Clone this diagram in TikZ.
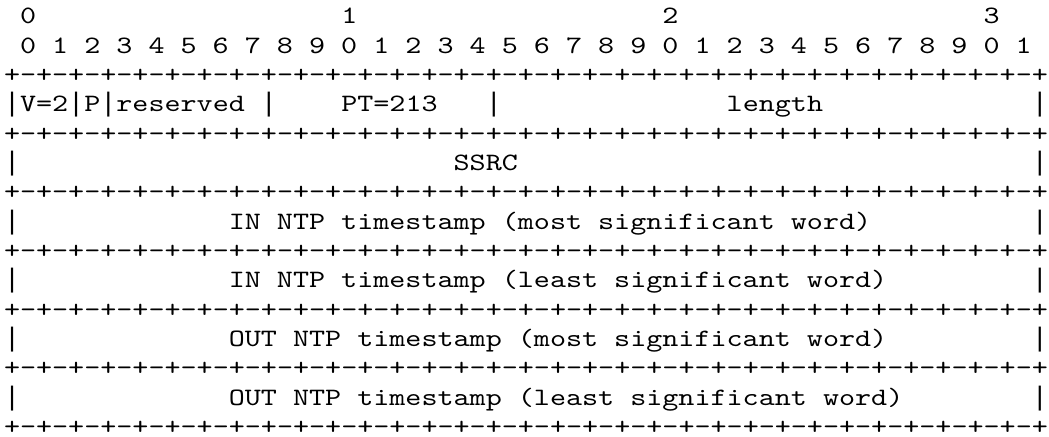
\documentclass[tikz,border=0pt]{standalone}
\usepackage{fontspec}
\setmonofont{lmmono10-regular.otf}[FakeStretch=1.2236]
\newfontfamily\pbarfont{Liberation Mono}
\newcommand\pbar{{\pbarfont\fontsize{13.383pt}{16pt}\selectfont|}}
\tikzset{
  asciiline/.style={anchor=base west, inner sep=0pt, outer sep=0pt,
    font=\fontsize{12.5pt}{16pt}\selectfont\ttfamily\frenchspacing, text=black}
}
\begin{document}
\begin{tikzpicture}[x=1pt,y=1pt]
\useasboundingbox (0,0) rectangle (524.5,-218.5);
\node[asciiline] (l0) at (2,-11.9) {~0~~~~~~~~~~~~~~~~~~~1~~~~~~~~~~~~~~~~~~~2~~~~~~~~~~~~~~~~~~~3};
\node[asciiline] (l1) at (2,-26.575) {~0~1~2~3~4~5~6~7~8~9~0~1~2~3~4~5~6~7~8~9~0~1~2~3~4~5~6~7~8~9~0~1};
\node[asciiline] (l2) at (2,-41.25) {+-+-+-+-+-+-+-+-+-+-+-+-+-+-+-+-+-+-+-+-+-+-+-+-+-+-+-+-+-+-+-+-+};
\node[asciiline] (l3) at (2,-55.925) {\pbar V=2\pbar P\pbar reserved~\pbar~~~~PT=213~~~\pbar~~~~~~~~~~~~~~length~~~~~~~~~~~~~\pbar};
\node[asciiline] (l4) at (2,-70.6) {+-+-+-+-+-+-+-+-+-+-+-+-+-+-+-+-+-+-+-+-+-+-+-+-+-+-+-+-+-+-+-+-+};
\node[asciiline] (l5) at (2,-85.275) {\pbar~~~~~~~~~~~~~~~~~~~~~~~~~~~SSRC~~~~~~~~~~~~~~~~~~~~~~~~~~~~~~~~\pbar};
\node[asciiline] (l6) at (2,-99.95) {+-+-+-+-+-+-+-+-+-+-+-+-+-+-+-+-+-+-+-+-+-+-+-+-+-+-+-+-+-+-+-+-+};
\node[asciiline] (l7) at (2,-114.625) {\pbar~~~~~~~~~~~~~IN~NTP~timestamp~(most~significant~word)~~~~~~~~~~\pbar};
\node[asciiline] (l8) at (2,-129.3) {+-+-+-+-+-+-+-+-+-+-+-+-+-+-+-+-+-+-+-+-+-+-+-+-+-+-+-+-+-+-+-+-+};
\node[asciiline] (l9) at (2,-143.975) {\pbar~~~~~~~~~~~~~IN~NTP~timestamp~(least~significant~word)~~~~~~~~~\pbar};
\node[asciiline] (l10) at (2,-158.65) {+-+-+-+-+-+-+-+-+-+-+-+-+-+-+-+-+-+-+-+-+-+-+-+-+-+-+-+-+-+-+-+-+};
\node[asciiline] (l11) at (2,-173.325) {\pbar~~~~~~~~~~~~~OUT~NTP~timestamp~(most~significant~word)~~~~~~~~~\pbar};
\node[asciiline] (l12) at (2,-188) {+-+-+-+-+-+-+-+-+-+-+-+-+-+-+-+-+-+-+-+-+-+-+-+-+-+-+-+-+-+-+-+-+};
\node[asciiline] (l13) at (2,-202.675) {\pbar~~~~~~~~~~~~~OUT~NTP~timestamp~(least~significant~word)~~~~~~~~\pbar};
\node[asciiline] (l14) at (2,-217.35) {+-+-+-+-+-+-+-+-+-+-+-+-+-+-+-+-+-+-+-+-+-+-+-+-+-+-+-+-+-+-+-+-+};
\end{tikzpicture}
\end{document}
